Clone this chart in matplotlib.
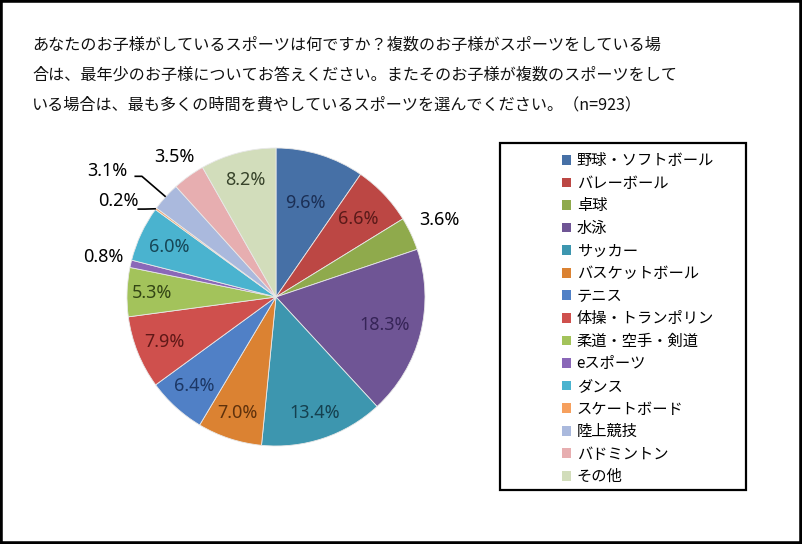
import numpy as np
import matplotlib
matplotlib.use('Agg')
import matplotlib.pyplot as plt
from matplotlib.patches import Rectangle

plt.rcParams['font.family'] = ['Noto Sans CJK JP', 'DejaVu Sans']

# data
categories = ['野球・ソフトボール', 'バレーボール', '卓球', '水泳', 'サッカー',
              'バスケットボール', 'テニス', '体操・トランポリン', '柔道・空手・剣道',
              'eスポーツ', 'ダンス', 'スケートボード', '陸上競技', 'バドミントン', 'その他']
values = [9.6, 6.6, 3.6, 18.3, 13.4, 7.0, 6.4, 7.9, 5.3, 0.8, 6.0, 0.2, 3.1, 3.5, 8.2]
pct_labels = ['9.6%', '6.6%', '3.6%', '18.3%', '13.4%', '7.0%', '6.4%', '7.9%',
              '5.3%', '0.8%', '6.0%', '0.2%', '3.1%', '3.5%', '8.2%']

colors = ['#4670A6', '#BC4744', '#8FAA4C', '#6F5595', '#3D96AF', '#DB8232',
          '#5080C6', '#CF504D', '#A3C35B', '#8A67B8', '#4AB3CF', '#F6A05E',
          '#AAB9DD', '#E7AEB0', '#D2DDBB']
text_colors = ['#1B2F55', '#5A1A19', 'black', '#362457', '#15404F', '#5E310C',
               '#1C3765', '#5F1817', '#334515', 'black', '#164656', 'black',
               'black', 'black', '#37432A']
# distance of each label from centre (fraction of radius)
label_r = [0.66, 0.76, 1.21, 0.75, 0.82, 0.82, 0.81, 0.81, 0.83, 1.19, 0.79,
           None, None, 1.16, 0.81]

title_lines = ['あなたのお子様がしているスポーツは何ですか？複数のお子様がスポーツをしている場',
               '合は、最年少のお子様についてお答えください。またそのお子様が複数のスポーツをして',
               'いる場合は、最も多くの時間を費やしているスポーツを選んでください。（n=923）']

W, H = 802, 544
fig = plt.figure(figsize=(W / 100, H / 100), dpi=100)

# pie axes: centre (276, 297) px, radius 149 px
cx, cy, R = 276, 297, 149
ax = fig.add_axes([(cx - 1.5 * R) / W, (H - cy - 1.5 * R) / H, 3 * R / W, 3 * R / H])
wedges, _ = ax.pie(values, colors=colors, startangle=90, counterclock=False,
                   wedgeprops=dict(edgecolor='#E8E8E8', linewidth=0.6))
ax.set_xlim(-1.5, 1.5)
ax.set_ylim(-1.5, 1.5)
ax.axis('off')

num_font = ['Noto Sans', 'DejaVu Sans']
total = sum(values)
cum = np.cumsum([0] + values[:-1])
for i, w in enumerate(wedges):
    mid = np.deg2rad(90 - 360 * (cum[i] + values[i] / 2) / total)
    if label_r[i] is None:
        continue
    r = label_r[i]
    ax.text(r * np.cos(mid), r * np.sin(mid), pct_labels[i], ha='center', va='center',
            fontsize=13, color=text_colors[i], family=num_font)

# labels with leader lines (0.2%, 3.1%)
for i, (tx, ty, kx, ky) in {11: (-0.92, 0.645, -0.88, 0.59),
                             12: (-1.00, 0.845, -0.90, 0.81)}.items():
    mid = np.deg2rad(90 - 360 * (cum[i] + values[i] / 2) / total)
    ex, ey = np.cos(mid), np.sin(mid)
    ax.text(tx, ty, pct_labels[i], ha='right', va='center', fontsize=13,
            color='black', family=num_font)
    ax.plot([kx - 0.05, kx, ex], [ky, ky, ey], color='black', lw=1.2,
            solid_capstyle='butt', clip_on=False)

# title
for k, line in enumerate(title_lines):
    fig.text(32 / W, 1 - (45 + 30 * k) / H, line, ha='left', va='center',
             fontsize=11.6, color='#111111')

# legend box
fig.patches.append(Rectangle((500 / W, 1 - 490 / H), 246 / W, 347 / H,
                             transform=fig.transFigure, fill=False,
                             edgecolor='black', linewidth=1.6))
leg = fig.legend(wedges, categories, loc='upper left',
                 bbox_to_anchor=(550 / W, 1 - 140 / H), frameon=False,
                 fontsize=11, handlelength=0.6, handleheight=0.6,
                 handletextpad=0.35, labelspacing=0.365, borderpad=0.3)
for h in leg.legend_handles:
    h.set_edgecolor('none')

# outer frame
fig.patches.append(Rectangle((0, 0), 1, 1, transform=fig.transFigure, fill=False,
                             edgecolor='black', linewidth=4))

plt.savefig('out.png', dpi=100)
